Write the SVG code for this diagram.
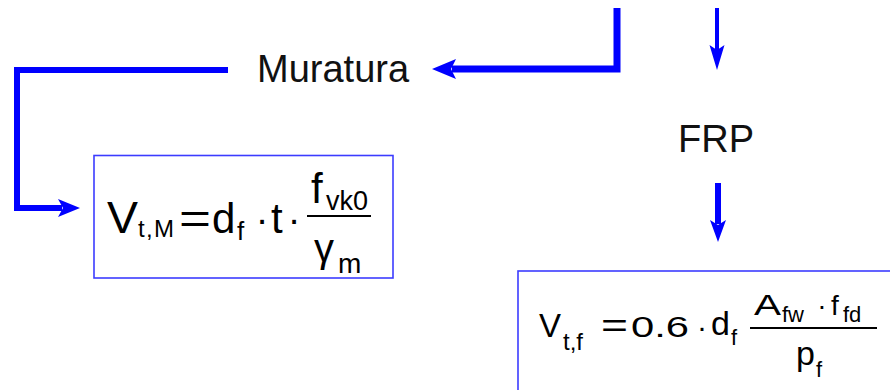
<svg xmlns="http://www.w3.org/2000/svg" width="890" height="390" viewBox="0 0 890 390">
<style>
.lbl{font-family:"Liberation Sans",Arial,sans-serif;fill:#111;font-size:38px}
.m{font-family:"Liberation Sans",Arial,sans-serif;fill:#000}
.box{fill:#fff;stroke:#3c3cff;stroke-width:1.6}
.con{fill:none;stroke:#0000ff;stroke-linejoin:miter;stroke-linecap:butt}
.head{fill:#0000ff;stroke:none}
.fl{stroke:#000;stroke-width:2}
</style>
<rect width="890" height="390" fill="#fff"/>
<g id="connectors">
  <path class="con" d="M617,8 V69 H452" stroke-width="7"/>
  <polygon class="head" points="432,69 456,59 451,69 456,79"/>
  <path class="con" d="M228,70 H17 V208 H62" stroke-width="6"/>
  <polygon class="head" points="80,208 58,199 63,208 58,217"/>
  <path class="con" d="M717,8 V50" stroke-width="4"/>
  <polygon class="head" points="717,70 709.5,45 717,50 724.5,45"/>
  <path class="con" d="M718,183 V224" stroke-width="6"/>
  <polygon class="head" points="718,242 710,220 718,225 726,220"/>
</g>
<g id="muratura">
  <text class="lbl" x="257" y="82">Muratura</text>
</g>
<g id="frp">
  <text class="lbl" x="716" y="152" text-anchor="middle">FRP</text>
</g>
<g id="formula-muratura">
  <rect class="box" x="94" y="155.5" width="299" height="122.5"/>
  <text class="m" x="107" y="233" font-size="44" textLength="31" lengthAdjust="spacingAndGlyphs">V</text>
  <text class="m" x="138" y="237" font-size="24" textLength="36" lengthAdjust="spacing">t,M</text>
  <text class="m" x="179" y="233" font-size="42" textLength="32" lengthAdjust="spacingAndGlyphs">=</text>
  <text class="m" x="212" y="233" font-size="42">d</text>
  <text class="m" x="237" y="240" font-size="26">f</text>
  <text class="m" x="262" y="233" font-size="38" text-anchor="middle">·</text>
  <text class="m" x="271" y="233" font-size="42">t</text>
  <text class="m" x="294" y="233" font-size="38" text-anchor="middle">·</text>
  <line class="fl" x1="307" y1="216" x2="371" y2="216"/>
  <text class="m" x="311" y="203" font-size="42">f</text>
  <text class="m" x="326" y="210" font-size="27">vk0</text>
  <text class="m" x="314" y="262" font-size="40">γ</text>
  <text class="m" x="338" y="273" font-size="28">m</text>
</g>
<g id="formula-frp">
  <rect class="box" x="518" y="271" width="400" height="150"/>
  <text class="m" x="539" y="337" font-size="33">V</text>
  <text class="m" x="563" y="350" font-size="24">t,f</text>
  <text class="m" x="601" y="337" font-size="33" textLength="27" lengthAdjust="spacingAndGlyphs">=</text>
  <text class="m" x="631" y="337" font-size="29" textLength="58" lengthAdjust="spacingAndGlyphs">0.6</text>
  <text class="m" x="702" y="337" font-size="30" text-anchor="middle">·</text>
  <text class="m" x="711" y="335" font-size="34">d</text>
  <text class="m" x="731" y="345" font-size="22">f</text>
  <line class="fl" x1="750" y1="328" x2="877" y2="328"/>
  <text class="m" x="754" y="315" font-size="29" textLength="27" lengthAdjust="spacingAndGlyphs">A</text>
  <text class="m" x="782" y="322" font-size="22">fw</text>
  <text class="m" x="822" y="315" font-size="28" text-anchor="middle">·</text>
  <text class="m" x="831" y="315" font-size="28">f</text>
  <text class="m" x="843" y="322" font-size="22">fd</text>
  <text class="m" x="796" y="365" font-size="34">p</text>
  <text class="m" x="816" y="377" font-size="22">f</text>
</g>
</svg>
